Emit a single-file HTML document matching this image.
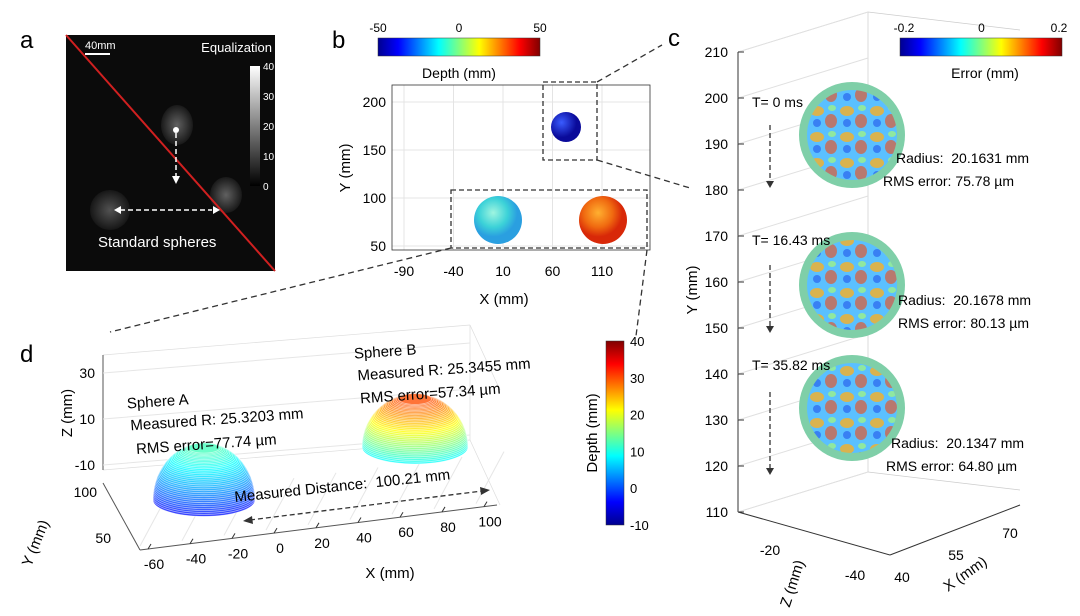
<!DOCTYPE html>
<html><head><meta charset="utf-8">
<style>
body{margin:0;background:#fff;}
svg{display:block;font-family:"Liberation Sans",Arial,sans-serif;}
text{white-space:pre;}
</style></head>
<body>
<svg id="fig" width="1080" height="616" viewBox="0 0 1080 616">
<defs>
<linearGradient id="jet" x1="0" x2="1" y1="0" y2="0">
<stop offset="0" stop-color="#00008f"/><stop offset="0.125" stop-color="#0000ff"/><stop offset="0.375" stop-color="#00ffff"/><stop offset="0.625" stop-color="#ffff00"/><stop offset="0.875" stop-color="#ff0000"/><stop offset="1" stop-color="#800000"/>
</linearGradient>
<linearGradient id="jetv" x1="0" x2="0" y1="1" y2="0">
<stop offset="0" stop-color="#00008f"/><stop offset="0.125" stop-color="#0000ff"/><stop offset="0.375" stop-color="#00ffff"/><stop offset="0.625" stop-color="#ffff00"/><stop offset="0.875" stop-color="#ff0000"/><stop offset="1" stop-color="#800000"/>
</linearGradient>
<linearGradient id="gray" x1="0" x2="0" y1="1" y2="0"><stop offset="0" stop-color="#000"/><stop offset="1" stop-color="#fff"/></linearGradient>
<radialGradient id="sBlue" cx="0.35" cy="0.35"><stop offset="0" stop-color="#3a5cff"/><stop offset="1" stop-color="#0a0a9a"/></radialGradient>
<radialGradient id="sCyan" cx="0.4" cy="0.35"><stop offset="0" stop-color="#9ff5e0"/><stop offset="0.6" stop-color="#3cd2d8"/><stop offset="1" stop-color="#2a9fe0"/></radialGradient>
<radialGradient id="sOr" cx="0.4" cy="0.35"><stop offset="0" stop-color="#ffb030"/><stop offset="0.6" stop-color="#f06a10"/><stop offset="1" stop-color="#d82808"/></radialGradient>
<radialGradient id="blob" cx="0.5" cy="0.5"><stop offset="0" stop-color="#999"/><stop offset="1" stop-color="#222"/></radialGradient>
<pattern id="noise" width="30" height="26" patternUnits="userSpaceOnUse">
<rect width="30" height="26" fill="#5ac0ff"/>
<ellipse cx="7" cy="7" rx="7" ry="5" fill="#f0b030" opacity="0.85"/><ellipse cx="21" cy="17" rx="6" ry="7" fill="#e05a30" opacity="0.7"/><ellipse cx="22" cy="4" rx="4" ry="3" fill="#8fe8a0"/><ellipse cx="7" cy="19" rx="4" ry="4" fill="#3070f0" opacity="0.8"/>
</pattern>
</defs>

<!-- Panel a -->
<g>
<text x="20" y="48" font-size="24">a</text>
<rect x="66" y="35" width="209" height="236" fill="#0b0b0b"/>
<ellipse cx="177" cy="125" rx="16" ry="20" fill="url(#blob)" opacity="0.6"/>
<ellipse cx="110" cy="210" rx="20" ry="20" fill="url(#blob)" opacity="0.5"/>
<ellipse cx="226" cy="195" rx="16" ry="18" fill="url(#blob)" opacity="0.6"/>
<line x1="66" y1="35" x2="275" y2="271" stroke="#d02020" stroke-width="2"/>
<line x1="85" y1="54" x2="110" y2="54" stroke="#fff" stroke-width="2"/>
<text x="85" y="49" font-size="11" fill="#fff">40mm</text>
<text x="272" y="52" font-size="13" fill="#fff" text-anchor="end">Equalization</text>
<rect x="250" y="66" width="10" height="120" fill="url(#gray)"/>
<g id="grayTicks"></g>
<circle cx="176" cy="130" r="3" fill="#fff"/>
<line x1="176" y1="133" x2="176" y2="178" stroke="#fff" stroke-width="1.5" stroke-dasharray="5,3"/>
<polygon points="172,176 180,176 176,184" fill="#fff"/>
<line x1="120" y1="210" x2="212" y2="210" stroke="#fff" stroke-width="1.5" stroke-dasharray="5,3"/>
<polygon points="114,210 121,206 121,214" fill="#fff"/><polygon points="220,210 213,206 213,214" fill="#fff"/>
<text x="98" y="247" font-size="15" fill="#fff">Standard spheres</text>
</g>

<!-- Panel b -->
<g>
<text x="332" y="48" font-size="24">b</text>
<rect x="378" y="38" width="162" height="18" fill="url(#jet)" stroke="#333" stroke-width="0.5"/>
<g id="bCbTicks"></g>
<text x="459" y="78" font-size="14" text-anchor="middle">Depth (mm)</text>
<g id="bAxes"></g>
<rect x="392" y="85" width="258" height="165" fill="none" stroke="#333" stroke-width="0.8"/>
<circle cx="566" cy="127" r="15" fill="url(#sBlue)"/>
<circle cx="498" cy="220" r="24" fill="url(#sCyan)"/>
<circle cx="603" cy="220" r="24" fill="url(#sOr)"/>
<rect x="543" y="82" width="54" height="78" fill="none" stroke="#333" stroke-width="1.3" stroke-dasharray="5,3"/>
<rect x="451" y="190" width="196" height="58" fill="none" stroke="#333" stroke-width="1.3" stroke-dasharray="5,3"/>
<text x="504" y="304" font-size="15" text-anchor="middle">X (mm)</text>
<text transform="translate(350,168) rotate(-90)" font-size="15" text-anchor="middle">Y (mm)</text>
<line x1="597" y1="82" x2="662" y2="45" stroke="#333" stroke-width="1.3" stroke-dasharray="6,4"/>
<line x1="597" y1="160" x2="690" y2="188" stroke="#333" stroke-width="1.3" stroke-dasharray="6,4"/>
<line x1="451" y1="248" x2="110" y2="332" stroke="#333" stroke-width="1.3" stroke-dasharray="6,4"/>
<line x1="647" y1="250" x2="636" y2="336" stroke="#333" stroke-width="1.3" stroke-dasharray="6,4"/>
</g>

<!-- Panel c -->
<g>
<text x="668" y="46" font-size="24">c</text>
<g stroke="#ccc" stroke-width="0.7" fill="none">
<line x1="738" y1="52" x2="738" y2="512"/><line x1="868" y1="12" x2="868" y2="472"/><line x1="738" y1="52" x2="868" y2="12"/><line x1="868" y1="12" x2="1020" y2="30"/>
<line x1="738" y1="512" x2="868" y2="472"/><line x1="868" y1="472" x2="1020" y2="490"/>
</g>
<line x1="738" y1="52" x2="738" y2="512" stroke="#333"/>
<line x1="738" y1="512" x2="890" y2="555" stroke="#333"/>
<line x1="890" y1="555" x2="1020" y2="505" stroke="#333"/>
<g id="cAxes"></g>
<rect x="900" y="38" width="162" height="18" fill="url(#jet)" stroke="#333" stroke-width="0.5"/>
<g id="cCbTicks"></g>
<text x="985" y="78" font-size="14" text-anchor="middle">Error (mm)</text>
<text transform="translate(697,290) rotate(-90)" font-size="15" text-anchor="middle">Y (mm)</text>
<text transform="translate(797,585) rotate(-72)" font-size="15" text-anchor="middle">Z (mm)</text>
<text transform="translate(968,578) rotate(-35)" font-size="15" text-anchor="middle">X (mm)</text>
<g id="cFrames"></g>
</g>

<!-- Panel d -->
<g>
<text x="20" y="362" font-size="24">d</text>
<g stroke="#ddd" stroke-width="0.7" fill="none">
<line x1="103" y1="355" x2="470" y2="325"/><line x1="470" y1="325" x2="500" y2="390"/><line x1="470" y1="325" x2="470" y2="440"/>
<line x1="103" y1="470" x2="470" y2="440"/><line x1="470" y1="440" x2="500" y2="505"/>
</g>
<line x1="103" y1="355" x2="103" y2="470" stroke="#555"/>
<line x1="103" y1="483" x2="140" y2="550" stroke="#555"/>
<line x1="140" y1="550" x2="497" y2="505" stroke="#555"/>
<g id="dAxes"></g>
<g id="domes"></g>
<g font-size="15" transform="rotate(-4 250 415)">
<text x="128" y="400">Sphere A</text>
<text x="130" y="422">Measured R: 25.3203 mm</text>
<text x="134" y="446">RMS error=77.74 µm</text>
</g>
<g font-size="15" transform="rotate(-4 450 365)">
<text x="355" y="352">Sphere B</text>
<text x="357" y="374">Measured R: 25.3455 mm</text>
<text x="358" y="397">RMS error=57.34 µm</text>
</g>
<text transform="translate(235,502) rotate(-6)" font-size="15">Measured Distance:  100.21 mm</text>
<line x1="250" y1="520" x2="482" y2="491" stroke="#333" stroke-width="1.3" stroke-dasharray="5,3"/>
<polygon points="243,521 252,516 253,524" fill="#333"/><polygon points="490,490 480,487 481,495" fill="#333"/>
<text x="390" y="578" font-size="15" text-anchor="middle">X (mm)</text>
<text transform="translate(72,413) rotate(-90)" font-size="15" text-anchor="middle">Z (mm)</text>
<text transform="translate(40,545) rotate(-68)" font-size="15" text-anchor="middle">Y (mm)</text>
<rect x="606" y="341" width="18" height="184" fill="url(#jetv)" stroke="#333" stroke-width="0.5"/>
<g id="dCbTicks"></g>
<text transform="translate(597,433) rotate(-90)" font-size="15" text-anchor="middle">Depth (mm)</text>
</g>
</svg>

<script>
const NS="http://www.w3.org/2000/svg";
function mk(tag,attrs,parent,txt){const e=document.createElementNS(NS,tag);for(const k in attrs)e.setAttribute(k,attrs[k]);if(txt!==undefined)e.textContent=txt;parent.appendChild(e);return e;}
// data
const grayTicks=[40,30,20,10,0];
const bDepthTicks=[-50,0,50];
const bXTicks=[-90,-40,10,60,110];
const bYTicks=[50,100,150,200];
const cYTicks=[210,200,190,180,170,160,150,140,130,120,110];
const cErrTicks=[-0.2,0,0.2];
const cZTicks=[-20,-40];
const cXTicks=[40,55,70];
const cTimes=["T= 0 ms","T= 16.43 ms","T= 35.82 ms"];
const cRadius=["20.1631","20.1678","20.1347"];
const cRms=["75.78","80.13","64.80"];
const dXTicks=[-60,-40,-20,0,20,40,60,80,100];
const dZTicks=[30,10,-10];
const dYTicks=[100,50];
const dCbTicks=[40,30,20,10,0,-10];
const sphereX=[-35,15];
const sphereBaseDepth=[-3,9];
const sphereTopDepth=[12,30];

// a
const gA=document.getElementById('grayTicks');
grayTicks.forEach(v=>{const y=186-v/40*120;const t=mk('text',{x:263,y:y+4,'font-size':10,fill:'#fff'},gA,v);

});
// b
const gB=document.getElementById('bCbTicks');
bDepthTicks.forEach(v=>{const x=378+(v+50)/100*162;const t=mk('text',{x:x,y:32,'font-size':12,'text-anchor':'middle'},gB,v);

});
const bAx=document.getElementById('bAxes');
const bx=v=>404+(v+90)/200*198, by=v=>246-(v-50)/150*144;
bXTicks.forEach(v=>{mk('line',{x1:bx(v),y1:85,x2:bx(v),y2:250,stroke:'#e4e4e4'},bAx);
const t=mk('text',{x:bx(v),y:276,'font-size':14,'text-anchor':'middle'},bAx,v);

});
bYTicks.forEach(v=>{mk('line',{x1:392,y1:by(v),x2:650,y2:by(v),stroke:'#e4e4e4'},bAx);
const t=mk('text',{x:386,y:by(v)+5,'font-size':14,'text-anchor':'end'},bAx,v);

});
// c
const cAx=document.getElementById('cAxes');
const cy=v=>52+(210-v)/100*460;
cYTicks.forEach(v=>{mk('line',{x1:738,y1:cy(v),x2:868,y2:cy(v)-40,stroke:'#e0e0e0'},cAx);
mk('line',{x1:738,y1:cy(v),x2:744,y2:cy(v),stroke:'#333'},cAx);
const t=mk('text',{x:728,y:cy(v)+5,'font-size':14,'text-anchor':'end'},cAx,v);

});
cZTicks.forEach((v,i)=>{const t=mk('text',{x:770+i*85,y:555+i*25,'font-size':14,'text-anchor':'middle'},cAx,v);

});
cXTicks.forEach((v,i)=>{const t=mk('text',{x:902+i*54,y:582-i*22,'font-size':14,'text-anchor':'middle'},cAx,v);

});
const gC=document.getElementById('cCbTicks');
cErrTicks.forEach(v=>{const x=900+(v+0.2)/0.4*155+4;const t=mk('text',{x:x,y:32,'font-size':12,'text-anchor':'middle'},gC,v);

});
const cF=document.getElementById('cFrames');
const frameY=[135,285,408];
cTimes.forEach((s,i)=>{const y=frameY[i];
const c1=mk('circle',{cx:852,cy:y,r:53,fill:'#7fcfa8'},cF);


const c2=mk('circle',{cx:852,cy:y,r:45,fill:'url(#noise)'},cF);


const t=mk('text',{x:752,y:[107,245,370][i],'font-size':14},cF,s);


const y0=[125,265,392][i],y1=[188,333,475][i];
mk('line',{x1:770,y1:y0,x2:770,y2:y1-6,stroke:'#333','stroke-width':1.3,'stroke-dasharray':'5,3'},cF);
mk('polygon',{points:`766,${y1-7} 774,${y1-7} 770,${y1}`,fill:'#333'},cF);
const rx=[896,898,891][i],ry=[163,305,448][i];
const r=mk('text',{x:rx,y:ry,'font-size':14},cF,'Radius:  '+cRadius[i]+' mm');


const m=mk('text',{x:[883,898,886][i],y:ry+23,'font-size':14},cF,'RMS error: '+cRms[i]+' µm');

});
// d
const dAx=document.getElementById('dAxes');
const dx=v=>148+(v+60)/160*336;
dXTicks.forEach(v=>{const x=dx(v);const yb=550-(x-140)*45/357;
mk('line',{x1:x-8,y1:yb-3,x2:x+20,y2:yb-55,stroke:'#e6e6e6'},dAx);
mk('line',{x1:x,y1:yb,x2:x+3,y2:yb-5,stroke:'#333'},dAx);
const t=mk('text',{x:x+6,y:yb+20,'font-size':14,'text-anchor':'middle'},dAx,v);

});
const dz=v=>373+(30-v)/40*92;
dZTicks.forEach(v=>{mk('line',{x1:103,y1:dz(v),x2:470,y2:dz(v)-30,stroke:'#e6e6e6'},dAx);
const t=mk('text',{x:95,y:dz(v)+5,'font-size':14,'text-anchor':'end'},dAx,v);

});
dYTicks.forEach((v,i)=>{const t=mk('text',{x:97+i*14,y:497+i*46,'font-size':14,'text-anchor':'end'},dAx,v);

});
const jet=[[0,0,143],[0,0,255],[0,255,255],[255,255,0],[255,0,0],[128,0,0]],jp=[0,.125,.375,.625,.875,1];
function jrgb(t){t=Math.max(0,Math.min(1,t));for(let i=1;i<jp.length;i++)if(t<=jp[i]){const f=(t-jp[i-1])/(jp[i]-jp[i-1]);const a=jet[i-1],b=jet[i];return a.map((c,k)=>c+(b[k]-c)*f);}return [128,0,0];}
function light(t){const c=jrgb(t).map(v=>Math.round(v*0.78+255*0.22));return `rgb(${c.join(',')})`;}
const gd=document.getElementById('domes');
sphereX.forEach((xv,si)=>{
const cx=si?415:204, base=si?447:500, R=si?53:51, H=si?48:52, k=0.32;
const g=mk('g',{},gd);


const N=36, maxAng=1.25;
for(let i=0;i<=N;i++){const f=i/N;const ang=f*maxAng;const rx=R*Math.cos(ang);const yc=base-H*Math.sin(ang)/Math.sin(maxAng);
const depth=sphereBaseDepth[si]+(sphereTopDepth[si]-sphereBaseDepth[si])*Math.sin(ang)/Math.sin(maxAng);
mk('ellipse',{cx:cx,cy:yc,rx:rx,ry:rx*k,fill:light((depth+10)/50),stroke:'#fff','stroke-opacity':0.6,'stroke-width':0.7},g);}
});
const gDc=document.getElementById('dCbTicks');
dCbTicks.forEach(v=>{const y=525-(v+10)/50*184;const t=mk('text',{x:630,y:y+5,'font-size':13},gDc,v);

});
</script>
</body></html>
